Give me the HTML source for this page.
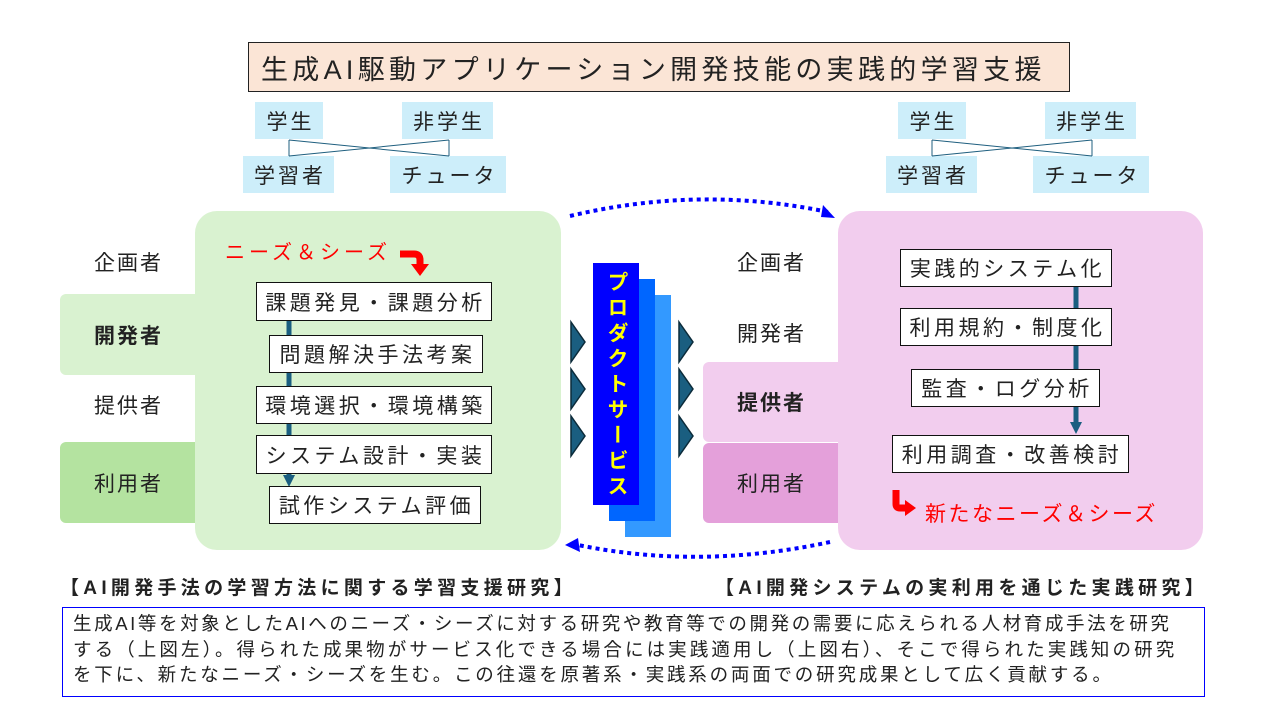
<!DOCTYPE html>
<html><head><meta charset="utf-8"><style>
body{margin:0;width:1280px;height:720px;background:#fff;position:relative;overflow:hidden;font-family:"Liberation Sans","Noto Sans CJK JP",sans-serif;color:#222}
.a{position:absolute;box-sizing:border-box}
.t{position:absolute;white-space:nowrap}
.bx{position:absolute;box-sizing:border-box;background:#fff;border:1.5px solid #111;font-size:21px;letter-spacing:3.5px;text-indent:3px;display:flex;align-items:center;justify-content:center;white-space:nowrap}
.lb{position:absolute;box-sizing:border-box;background:#cdeefa;font-size:21px;letter-spacing:3px;text-indent:3px;display:flex;align-items:center;justify-content:center;white-space:nowrap}
.rl{position:absolute;font-size:21px;letter-spacing:2px;text-indent:2px;display:flex;align-items:center;justify-content:center;box-sizing:border-box}
</style></head><body>
<div class="a" style="left:248px;top:42px;width:822px;height:50px;background:#fbe5d6;border:1.5px solid #222;font-size:27px;letter-spacing:4.3px;white-space:nowrap;padding-left:12px;display:flex;align-items:center;justify-content:flex-start">生成AI駆動アプリケーション開発技能の実践的学習支援</div>

<div class="lb" style="left:255px;top:102px;width:68px;height:37px">学生</div>
<div class="lb" style="left:402px;top:102px;width:91px;height:37px">非学生</div>
<div class="lb" style="left:243px;top:156px;width:91px;height:37px">学習者</div>
<div class="lb" style="left:390px;top:156px;width:116px;height:37px">チュータ</div>
<div class="lb" style="left:898px;top:102px;width:68px;height:37px">学生</div>
<div class="lb" style="left:1045px;top:102px;width:91px;height:37px">非学生</div>
<div class="lb" style="left:886px;top:156px;width:91px;height:37px">学習者</div>
<div class="lb" style="left:1033px;top:156px;width:116px;height:37px">チュータ</div>

<div class="a" style="left:195px;top:211px;width:366px;height:339px;background:#d9f2d0;border-radius:22px"></div>
<div class="a" style="left:838px;top:211px;width:365px;height:339px;background:#f2cdee;border-radius:22px"></div>

<div class="rl" style="left:60px;top:242px;width:135px;height:40px">企画者</div>
<div class="rl" style="left:60px;top:294px;width:135px;height:81px;background:#d9f2d0;font-weight:bold;border-radius:6px 0 0 6px">開発者</div>
<div class="rl" style="left:60px;top:385px;width:135px;height:40px">提供者</div>
<div class="rl" style="left:60px;top:442px;width:135px;height:81px;background:#b4e3a0;border-radius:6px 0 0 6px">利用者</div>

<div class="rl" style="left:703px;top:242px;width:135px;height:40px">企画者</div>
<div class="rl" style="left:703px;top:313px;width:135px;height:40px">開発者</div>
<div class="rl" style="left:703px;top:362px;width:135px;height:80px;background:#f2cdee;font-weight:bold;border-radius:6px 0 0 6px">提供者</div>
<div class="rl" style="left:703px;top:443px;width:135px;height:80px;background:#e4a0da;border-radius:6px 0 0 6px">利用者</div>

<svg class="a" style="left:0;top:0" width="1280" height="720">
<g stroke="#1f5f7f" stroke-width="1" fill="none">
<path d="M289 140V156M289 140L449 156M449 140L289 156M449 140V156"/>
<path d="M932 140V156M932 140L1092 156M1092 140L932 156M1092 140V156"/>
</g>
<line x1="289" y1="321" x2="289" y2="476" stroke="#1a5e80" stroke-width="5"/>
<polygon points="283,475 295,475 289,487" fill="#1a5e80"/>
<line x1="1076" y1="287" x2="1076" y2="424" stroke="#1a5e80" stroke-width="5"/>
<polygon points="1070,422 1082,422 1076,434" fill="#1a5e80"/>
<path d="M400 254H414Q420 254 420 260V266" stroke="#f00" stroke-width="7" fill="none"/>
<polygon points="411,264 429,264 420,276" fill="#f00"/>
<path d="M896 490V504Q896 508 900 508H906" stroke="#f00" stroke-width="7" fill="none"/>
<polygon points="905,500 905,516 916,508" fill="#f00"/>
<path d="M570 216Q700 185 828 212" stroke="#0000ff" stroke-width="4" fill="none" stroke-dasharray="4 4"/>
<polygon points="823,205 835,218 821,217" fill="#0000ff"/>
<path d="M830 542Q700 570 578 545" stroke="#0000ff" stroke-width="4" fill="none" stroke-dasharray="4 4"/>
<polygon points="565,545 578,538 580,552" fill="#0000ff"/>
<g fill="#1a5e80" stroke="#0b2b3a" stroke-width="1.5">
<polygon points="571,322 585,342 571,362"/><polygon points="571,369 585,389 571,409"/><polygon points="571,416 585,436 571,456"/>
<polygon points="679,322 693,342 679,362"/><polygon points="679,369 693,389 679,409"/><polygon points="679,416 693,436 679,456"/>
</g>
</svg>

<div class="t" style="left:225px;top:236px;font-size:20px;letter-spacing:4px;color:#f00">ニーズ＆シーズ</div>
<div class="t" style="left:925px;top:498px;font-size:21px;letter-spacing:2.5px;color:#f00">新たなニーズ＆シーズ</div>

<div class="bx" style="left:256px;top:282px;width:236px;height:39px">課題発見・課題分析</div>
<div class="bx" style="left:269px;top:335px;width:214px;height:38px">問題解決手法考案</div>
<div class="bx" style="left:256px;top:386px;width:236px;height:38px">環境選択・環境構築</div>
<div class="bx" style="left:256px;top:435px;width:236px;height:39px">システム設計・実装</div>
<div class="bx" style="left:269px;top:486px;width:212px;height:38px">試作システム評価</div>

<div class="bx" style="left:900px;top:249px;width:212px;height:38px">実践的システム化</div>
<div class="bx" style="left:900px;top:308px;width:212px;height:38px">利用規約・制度化</div>
<div class="bx" style="left:911px;top:369px;width:189px;height:38px">監査・ログ分析</div>
<div class="bx" style="left:892px;top:435px;width:237px;height:38px">利用調査・改善検討</div>

<div class="a" style="left:625px;top:295px;width:46px;height:242px;background:#3399ff"></div>
<div class="a" style="left:609px;top:279px;width:46px;height:242px;background:#0066ff"></div>
<div class="a" style="left:593px;top:263px;width:46px;height:242px;background:#0000ff;color:#ffff00;font-weight:bold;font-size:21px;writing-mode:vertical-rl;display:flex;align-items:center;justify-content:flex-start;padding-top:8px;line-height:46px;letter-spacing:4.5px">プロダクトサービス</div>

<div class="t" style="left:60px;top:573px;font-size:19px;font-weight:bold;letter-spacing:4.3px">【AI開発手法の学習方法に関する学習支援研究】</div>
<div class="t" style="left:715px;top:573px;font-size:19px;font-weight:bold;letter-spacing:4.3px">【AI開発システムの実利用を通じた実践研究】</div>

<div class="a" style="left:62px;top:607px;width:1143px;height:90px;border:1px solid #0000ff;font-size:18.5px;line-height:25.5px;letter-spacing:2.6px;padding:3px 0 0 10px;white-space:nowrap">生成AI等を対象としたAIへのニーズ・シーズに対する研究や教育等での開発の需要に応えられる人材育成手法を研究<br><span style="letter-spacing:3.1px">する（上図左）。得られた成果物がサービス化できる場合には実践適用し（上図右）、そこで得られた実践知の研究</span><br><span style="letter-spacing:2.8px">を下に、新たなニーズ・シーズを生む。この往還を原著系・実践系の両面での研究成果として広く貢献する。</span></div>
</body></html>
